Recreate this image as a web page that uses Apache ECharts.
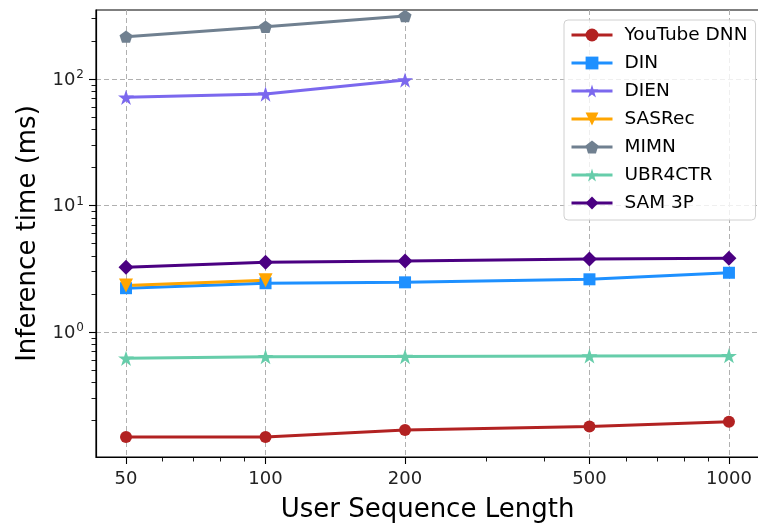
<!DOCTYPE html>
<html>
<head>
<meta charset="utf-8">
<script src="https://cdn.jsdelivr.net/npm/echarts@6/dist/echarts.min.js"></script>
<style>
html,body{margin:0;padding:0;background:#fff;}
#chart{width:758px;height:523px;}
</style>
</head>
<body>
<div id="chart"></div>
<script>
// ---- data ----
const sequenceLengths = [50, 100, 200, 500, 1000];
const youtubeDNN = [0.148, 0.148, 0.168, 0.179, 0.195];
const din = [2.22, 2.43, 2.47, 2.61, 2.94];
const dien = [71.6, 76, 98];
const sasrec = [2.33, 2.56];
const mimn = [216, 259, 315];
const ubr4ctr = [0.62, 0.638, 0.64, 0.646, 0.65];
const sam3p = [3.25, 3.56, 3.64, 3.78, 3.83];
const seriesNames = ['YouTube DNN', 'DIN', 'DIEN', 'SASRec', 'MIMN', 'UBR4CTR', 'SAM 3P'];

const xMajorTicks = [50, 100, 200, 500, 1000];
const xMinorTicks = [60, 70, 80, 90, 300, 400, 600, 700, 800, 900];
const yMajorTicks = [1, 10, 100];
const yMinorTicks = [0.2, 0.3, 0.4, 0.5, 0.6, 0.7, 0.8, 0.9, 2, 3, 4, 5, 6, 7, 8, 9, 20, 30, 40, 50, 60, 70, 80, 90, 200, 300];

const X_MIN = 43.07, X_MAX = 1161;
const Y_MIN = 0.1028, Y_MAX = 351;

const STAR = 'path://M50,0 L61.23,34.55 L97.55,34.55 L68.17,55.90 L79.39,90.45 L50,69.1 L20.61,90.45 L31.83,55.90 L2.45,34.55 L38.77,34.55 Z';
const PENTAGON = 'path://M50,0 L97.55,34.55 L79.39,90.45 L20.61,90.45 L2.45,34.55 Z';

function pairs(vals) { return vals.map((v, i) => [sequenceLengths[i], v]); }

const styles = [
  {color: '#b22222', symbol: 'circle', size: 12},
  {color: '#1e90ff', symbol: 'rect', size: 12},
  {color: '#7b68ee', symbol: STAR, size: 16},
  {color: '#ffa500', symbol: 'triangle', size: 14, rotate: 180},
  {color: '#708090', symbol: PENTAGON, size: 13},
  {color: '#66cdaa', symbol: STAR, size: 16},
  {color: '#4b0082', symbol: 'diamond', size: 15}
];
const values = [youtubeDNN, din, dien, sasrec, mimn, ubr4ctr, sam3p];

const FONT = 'DejaVu Sans';
const chart = echarts.init(document.getElementById('chart'), null, {renderer: 'canvas'});

const gridLine = {show: true, lineStyle: {color: '#b0b0b0', type: [5, 3], width: 1}};

chart.setOption({
  animation: false,
  textStyle: {fontFamily: FONT},
  grid: {left: 96, top: 10, right: -1, bottom: 66, show: true, borderColor: '#000', borderWidth: 1.2,
    containLabel: false, outerBoundsMode: 'none'},
  legend: {
    orient: 'vertical', left: 564, top: 20,
    padding: [5, 8, 7, 6],
    itemWidth: 41, itemHeight: 16, itemGap: 8,
    lineStyle: {width: 3},
    backgroundColor: 'rgba(255,255,255,0.8)', borderColor: '#d0d0d0', borderWidth: 1, borderRadius: 4,
    textStyle: {fontFamily: FONT, fontSize: 18.5, color: '#000', lineHeight: 20, padding: [0, 0, 0, 7]},
    data: seriesNames
  },
  xAxis: [{
    type: 'log', logBase: 10, min: X_MIN, max: X_MAX, position: 'bottom',
    name: 'User Sequence Length', nameLocation: 'middle', nameGap: 40,
    nameTextStyle: {fontFamily: FONT, fontSize: 26, color: '#000'},
    axisLine: {show: true, lineStyle: {color: '#000', width: 1.2}},
    axisTick: {show: true, inside: false, length: 7, customValues: xMajorTicks, lineStyle: {color: '#000', width: 1.1}},
    axisLabel: {show: true, customValues: xMajorTicks, margin: 13, fontFamily: FONT, fontSize: 18, color: '#222',
      formatter: v => String(Math.round(v))},
    splitLine: gridLine
  }, {
    type: 'log', logBase: 10, min: X_MIN, max: X_MAX, position: 'bottom', offset: 0,
    axisLine: {show: false},
    axisTick: {show: true, inside: false, length: 4.5, customValues: xMinorTicks, lineStyle: {color: '#000', width: 0.9}},
    axisLabel: {show: false},
    splitLine: {show: false}
  }],
  yAxis: [{
    type: 'log', logBase: 10, min: Y_MIN, max: Y_MAX, position: 'left',
    name: 'Inference time (ms)', nameLocation: 'middle', nameGap: 49, nameRotate: 90,
    nameTextStyle: {fontFamily: FONT, fontSize: 26, color: '#000'},
    axisLine: {show: true, lineStyle: {color: '#000', width: 1.2}},
    axisTick: {show: true, inside: false, length: 7, customValues: yMajorTicks, lineStyle: {color: '#000', width: 1.1}},
    axisLabel: {show: true, customValues: yMajorTicks, margin: 12, color: '#222',
      formatter: v => '{b|10}{s|' + Math.round(Math.log10(v)) + '}',
      rich: {
        b: {fontFamily: FONT, fontSize: 18, color: '#222', verticalAlign: 'bottom', lineHeight: 20},
        s: {fontFamily: FONT, fontSize: 12, color: '#222', verticalAlign: 'top', lineHeight: 20, padding: [0, 0, 0, 1]}
      }
    },
    splitLine: gridLine
  }, {
    type: 'log', logBase: 10, min: Y_MIN, max: Y_MAX, position: 'left', offset: 0,
    axisLine: {show: false},
    axisTick: {show: true, inside: false, length: 4.5, customValues: yMinorTicks, lineStyle: {color: '#000', width: 0.9}},
    axisLabel: {show: false},
    splitLine: {show: false}
  }],
  series: seriesNames.map((name, i) => ({
    name: name,
    type: 'line',
    xAxisIndex: 0, yAxisIndex: 0,
    data: pairs(values[i]),
    symbol: styles[i].symbol,
    symbolSize: styles[i].size,
    symbolRotate: styles[i].rotate || 0,
    symbolKeepAspect: true,
    showAllSymbol: true,
    lineStyle: {color: styles[i].color, width: 3},
    itemStyle: {color: styles[i].color, borderWidth: 0},
    emphasis: {disabled: true}
  }))
});
</script>
</body>
</html>
